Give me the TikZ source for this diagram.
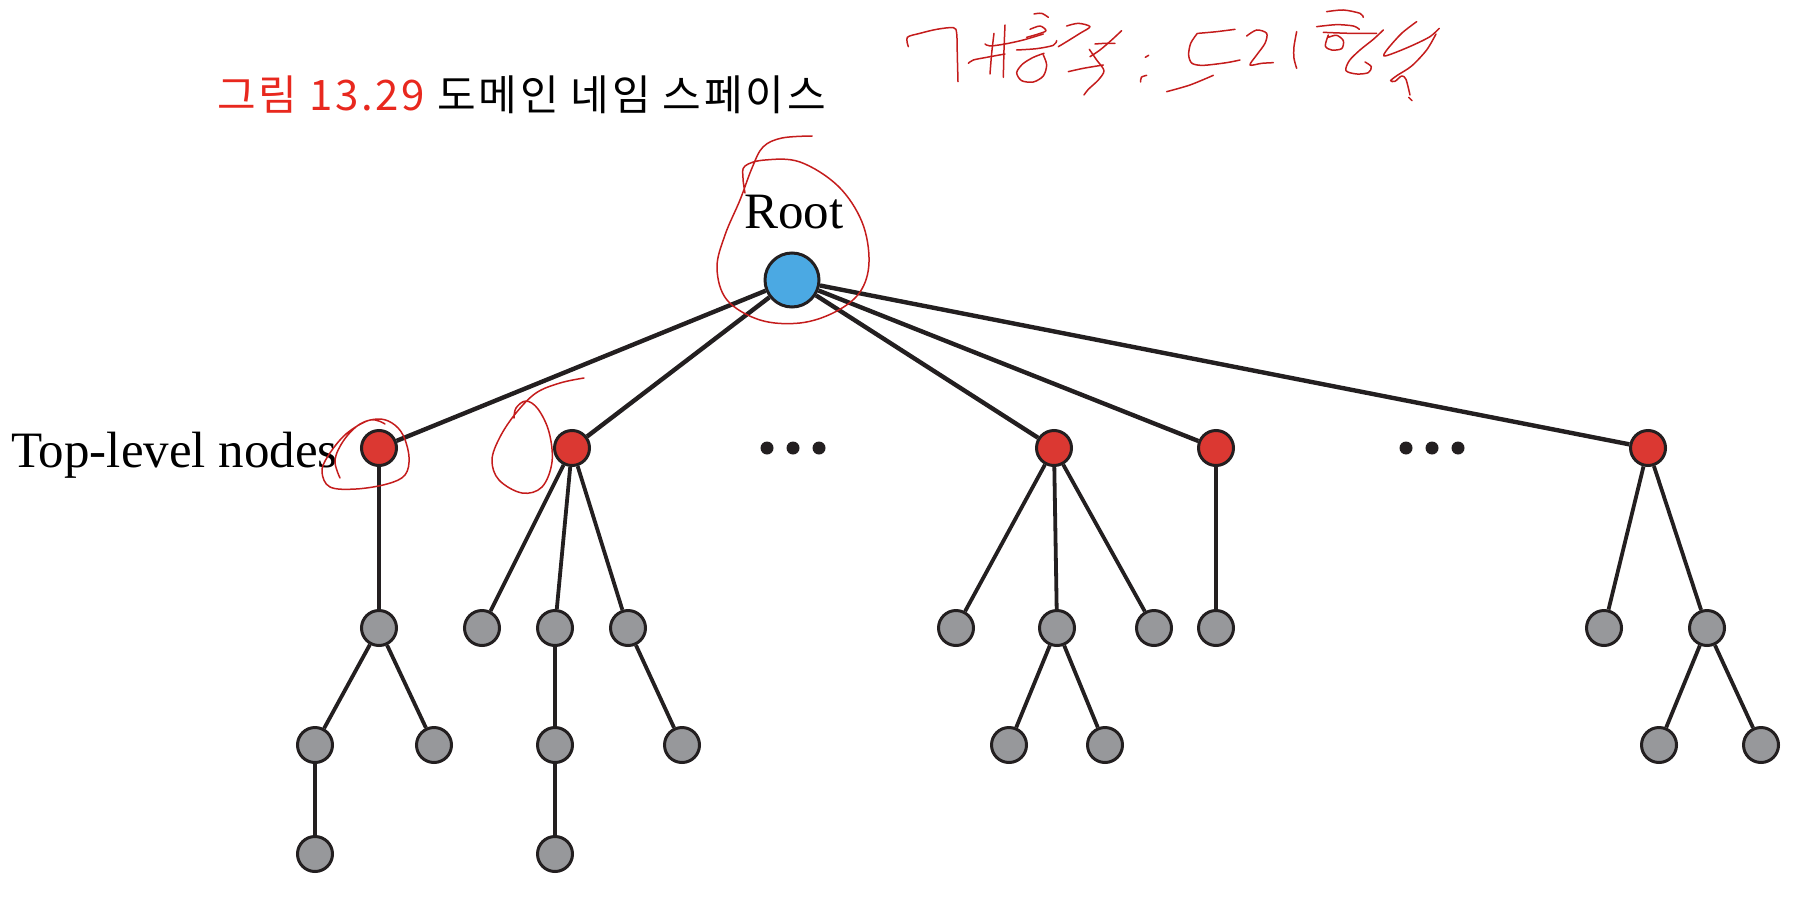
\documentclass[tikz,border=0pt]{standalone}
\usepackage{fontspec}
\setmainfont{Liberation Serif}
\newfontfamily\krfont[LetterSpace=6.5]{Noto Sans CJK KR}
\definecolor{lineblk}{HTML}{231F20}
\definecolor{rootblue}{HTML}{4BA9E3}
\definecolor{topred}{HTML}{DB3832}
\definecolor{leafgray}{HTML}{97989B}
\definecolor{notered}{HTML}{C41C1C}
\definecolor{titlered}{HTML}{E8281E}
\begin{document}
\begin{tikzpicture}[x=1pt,y=-1pt,
  rootnode/.style={circle,draw=lineblk,line width=3pt,fill=rootblue,minimum size=54pt,inner sep=0pt},
  topnode/.style={circle,draw=lineblk,line width=3pt,fill=topred,minimum size=35pt,inner sep=0pt},
  leaf/.style={circle,draw=lineblk,line width=3pt,fill=leafgray,minimum size=35pt,inner sep=0pt},
  dotnode/.style={circle,fill=lineblk,minimum size=13pt,inner sep=0pt},
  mainedge/.style={draw=lineblk,line width=4.4pt},
  subedge/.style={draw=lineblk,line width=3.8pt},
  note/.style={draw=notered,line width=1.5pt,line cap=round,line join=round},
  lbl/.style={inner sep=0pt,font=\fontsize{51}{60}\selectfont}]
\useasboundingbox (0,0) rectangle (1820,918);

% title
\node[anchor=base west,inner sep=0pt,font=\krfont\fontsize{42}{50}\selectfont] (title) at (217,110)
  {\textcolor{titlered}{그림 13.29} 도메인 네임 스페이스};

% labels
\node[lbl,anchor=base] (rootlbl) at (794,228) {Root};
\node[lbl,anchor=base west] (toplbl) at (11,467) {Top-level nodes};

% nodes
\node[rootnode] (root) at (792,280) {};
\node[topnode] (t1) at (379,448) {};
\node[topnode] (t2) at (572,448) {};
\node[topnode] (t3) at (1054,448) {};
\node[topnode] (t4) at (1216,448) {};
\node[topnode] (t5) at (1648,448) {};

\node[dotnode] (d1a) at (767,448) {};
\node[dotnode] (d1b) at (793,448) {};
\node[dotnode] (d1c) at (819,448) {};
\node[dotnode] (d2a) at (1406,448) {};
\node[dotnode] (d2b) at (1432,448) {};
\node[dotnode] (d2c) at (1458,448) {};

\node[leaf] (a1) at (379,628) {};
\node[leaf] (a1l) at (315,745) {};
\node[leaf] (a1r) at (434,745) {};
\node[leaf] (a1ll) at (315,854) {};

\node[leaf] (b1) at (482,628) {};
\node[leaf] (b2) at (555,628) {};
\node[leaf] (b3) at (628,628) {};
\node[leaf] (b2c) at (555,745) {};
\node[leaf] (b2cc) at (555,854) {};
\node[leaf] (b3c) at (682,745) {};

\node[leaf] (c1) at (956,628) {};
\node[leaf] (c2) at (1057,628) {};
\node[leaf] (c3) at (1154,628) {};
\node[leaf] (c2l) at (1009,745) {};
\node[leaf] (c2r) at (1105,745) {};

\node[leaf] (e0) at (1216,628) {};

\node[leaf] (e1) at (1604,628) {};
\node[leaf] (e2) at (1707,628) {};
\node[leaf] (e2l) at (1659,745) {};
\node[leaf] (e2r) at (1761,745) {};

% edges
\foreach \t in {t1,t2,t3,t4,t5} \draw[mainedge] (root) -- (\t);
\draw[subedge] (t1) -- (a1);
\draw[subedge] (a1) -- (a1l);
\draw[subedge] (a1) -- (a1r);
\draw[subedge] (a1l) -- (a1ll);
\draw[subedge] (t2) -- (b1);
\draw[subedge] (t2) -- (b2);
\draw[subedge] (t2) -- (b3);
\draw[subedge] (b2) -- (b2c);
\draw[subedge] (b2c) -- (b2cc);
\draw[subedge] (b3) -- (b3c);
\draw[subedge] (t3) -- (c1);
\draw[subedge] (t3) -- (c2);
\draw[subedge] (t3) -- (c3);
\draw[subedge] (c2) -- (c2l);
\draw[subedge] (c2) -- (c2r);
\draw[subedge] (t4) -- (e0);
\draw[subedge] (t5) -- (e1);
\draw[subedge] (t5) -- (e2);
\draw[subedge] (e2) -- (e2l);
\draw[subedge] (e2) -- (e2r);

% red annotation loops
\draw[note] plot[smooth,tension=0.6] coordinates {(812,136) (782,138) (763,147) (752,168) (740,200) (725,235) (717,268) (727,300) (760,320) (800,323) (835,312) (860,292) (869,262) (862,222) (838,186) (800,162) (765,160) (745,166) (743,178) (745,193)};
\draw[note] plot[smooth,tension=0.6] coordinates {(340,478) (335,460) (344,440) (360,424) (378,419) (392,423) (403,435) (409,457) (405,475) (387,484) (356,489) (330,487) (322,472) (328,456) (346,434) (370,420) (385,424)};
\draw[note] plot[smooth,tension=0.6] coordinates {(584,378) (560,383) (536,393) (516,413) (500,437) (492,460) (499,480) (522,493) (542,487) (552,462) (549,432) (538,409) (526,401) (516,408) (514,418)};

% handwriting (left part)
\begin{scope}[shift={(890pt,0pt)},x=0.3333pt,y=-0.3333pt]
\draw[note] plot[smooth,tension=0.5] coordinates {(55,140) (52,112) (90,100) (140,88) (190,83) (200,100) (202,170) (204,245)};
\draw[note] plot[smooth,tension=0.5] coordinates {(235,190) (250,180) (290,172) (345,162)};
\draw[note] plot[smooth,tension=0.5] coordinates {(285,132) (300,138) (345,132) (400,120) (460,102)};
\draw[note] plot[smooth,tension=0.5] coordinates {(312,100) (305,160) (300,222)};
\draw[note] plot[smooth,tension=0.5] coordinates {(345,75) (342,150) (340,232)};
\draw[note] plot[smooth,tension=0.5] coordinates {(432,42) (455,40) (475,52)};
\draw[note] plot[smooth,tension=0.5] coordinates {(420,88) (450,78) (468,92) (445,102) (410,112)};
\draw[note] plot[smooth,tension=0.5] coordinates {(380,150) (440,146) (490,136) (500,122)};
\draw[note] plot[smooth,tension=0.5] coordinates {(462,160) (430,172) (398,192) (380,218) (395,242) (430,246) (460,228) (470,195) (460,165)};
\draw[note] plot[smooth,tension=0.5] coordinates {(530,78) (565,70) (600,80) (570,100) (530,125) (505,140)};
\draw[note] plot[smooth,tension=0.5] coordinates {(615,132) (645,130) (675,130)};
\draw[note] plot[smooth,tension=0.5] coordinates {(695,92) (665,120) (630,150) (600,170)};
\draw[note] plot[smooth,tension=0.5] coordinates {(535,215) (580,205) (640,195)};
\draw[note] plot[smooth,tension=0.5] coordinates {(598,148) (620,180) (642,212) (625,240) (595,268) (582,285)};
\draw[note] plot[smooth,tension=0.5] coordinates {(766,172) (776,166)};
\draw[note] plot[smooth,tension=0.5] coordinates {(752,246) (754,232) (770,226)};
\end{scope}
% handwriting (right part)
\begin{scope}[shift={(1150pt,0pt)},x=0.3333pt,y=-0.3333pt]
\draw[note] plot[smooth,tension=0.5] coordinates {(50,275) (120,255) (190,226)};
\draw[note] plot[smooth,tension=0.5] coordinates {(145,100) (200,95) (255,88)};
\draw[note] plot[smooth,tension=0.5] coordinates {(142,100) (122,130) (116,165) (126,190) (160,196) (230,188) (270,180)};
\draw[note] plot[smooth,tension=0.5] coordinates {(290,108) (320,90) (350,100) (345,130) (320,165) (300,195) (335,190) (370,188)};
\draw[note] plot[smooth,tension=0.5] coordinates {(440,95) (432,140) (432,175) (440,205)};
\draw[note] plot[smooth,tension=0.5] coordinates {(530,35) (580,30) (630,40) (640,52)};
\draw[note] plot[smooth,tension=0.5] coordinates {(500,80) (560,74) (610,78) (628,88)};
\draw[note] plot[smooth,tension=0.5] coordinates {(535,105) (526,138) (545,150) (575,146) (580,122) (560,106) (535,112)};
\draw[note] plot[smooth,tension=0.5] coordinates {(520,97) (600,100) (680,100)};
\draw[note] plot[smooth,tension=0.5] coordinates {(700,90) (670,118) (630,150) (598,182) (588,212) (620,222) (655,218) (664,200) (645,186)};
\draw[note] plot[smooth,tension=0.5] coordinates {(800,65) (755,100) (712,148) (702,168) (735,158) (790,135) (840,110) (868,85)};
\draw[note] plot[smooth,tension=0.5] coordinates {(858,102) (830,150) (785,198) (742,226) (722,242) (735,244) (755,228) (768,238) (780,285)};
\draw[note] plot[smooth,tension=0.5] coordinates {(776,292) (786,302)};
\end{scope}
\end{tikzpicture}
\end{document}
